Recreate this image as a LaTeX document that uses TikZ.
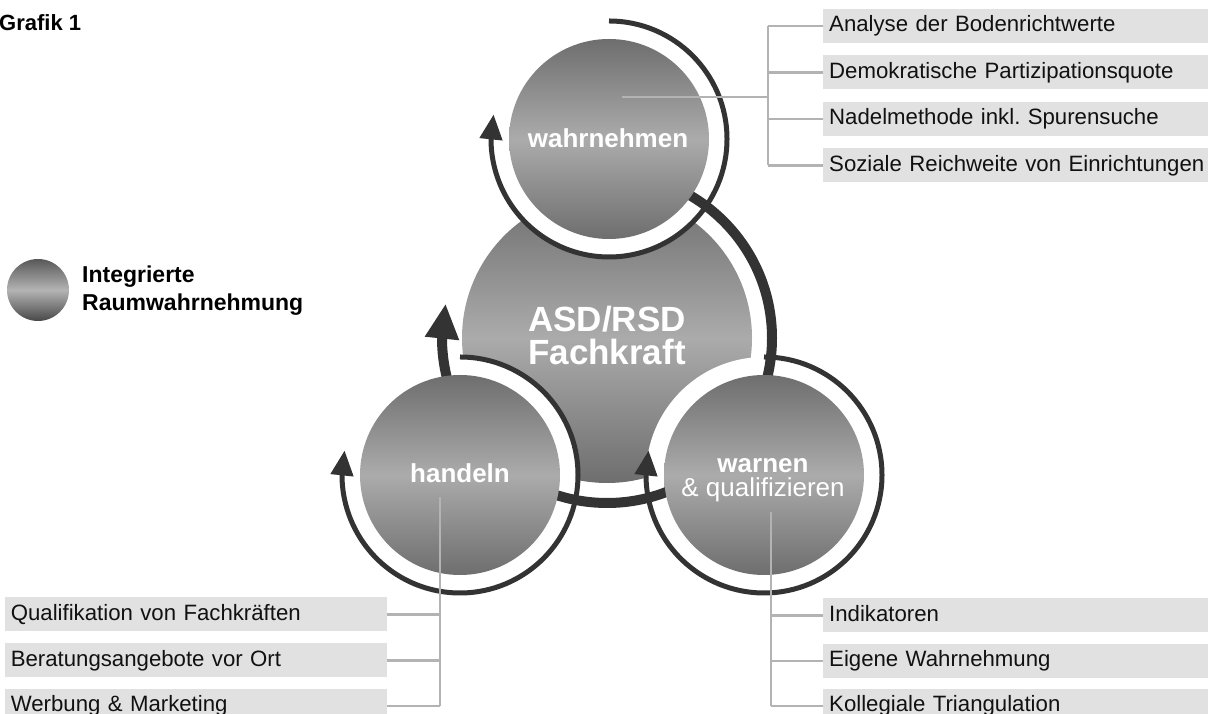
\documentclass[tikz,border=0pt]{standalone}
\usepackage{fontspec}
\setmainfont{Liberation Sans}
\usetikzlibrary{arrows.meta,bending}

\definecolor{ink}{HTML}{333333}
\definecolor{discdark}{HTML}{6E6E6E}
\definecolor{disclight}{HTML}{ABABAB}
\definecolor{keydark}{HTML}{585858}
\definecolor{keydarker}{HTML}{484848}
\definecolor{keylight}{HTML}{B4B4B4}
\definecolor{boxfill}{HTML}{E1E1E1}
\definecolor{twig}{HTML}{B3B3B3}
\definecolor{labelink}{HTML}{111111}

\begin{document}
\frenchspacing
\begin{tikzpicture}[x=1pt,y=1pt,
  disc/.style={circle,inner sep=0pt,minimum size=200pt,
    top color=discdark,bottom color=discdark,middle color=disclight},
  halo/.style={fill=white},
  ring/.style={draw=ink,line width=5pt,-{Triangle[width=22pt,length=25pt]}},
  bigring/.style={draw=ink,line width=10pt,-{Triangle[width=32pt,length=35pt]}},
  twigline/.style={draw=twig,line width=2.5pt},
  item/.style={fill=boxfill,inner xsep=6pt,inner ysep=0pt,minimum height=34pt,
    text width=400pt,align=left,text height=16pt,text depth=4pt,text=labelink,
    font=\fontsize{22.2}{26}\selectfont},
  itemleft/.style={item,text width=370pt},
  disclabel/.style={text=white,inner sep=0pt,font=\fontsize{26}{24}\selectfont\bfseries}
]
\useasboundingbox (0,0) rectangle (1208,714);
\begin{scope}
\clip (0,0) rectangle (1208,714);

% centres of the discs
\coordinate (T) at (609,575);
\coordinate (H) at (460,239);
\coordinate (W) at (764,239);

% central disc
\node[disc,minimum size=290pt] (C) at (607,376) {};

% white halos around the three outer discs
\fill[halo] (T) circle[radius=118];
\fill[halo] (H) circle[radius=118];
\fill[halo] (W) circle[radius=118];

% thick cycle around the central disc
\draw[bigring] ([shift={(90:165)}]C.center) arc[start angle=90,end angle=-192,radius=165];

% outer discs
\node[disc] (Td) at (T) {};
\node[disc] (Hd) at (H) {};
\node[disc] (Wd) at (W) {};

% thin cycles around the outer discs
\draw[ring] ([shift={(90:118)}]T) arc[start angle=90,end angle=-192,radius=118];
\draw[ring] ([shift={(90:118)}]H) arc[start angle=90,end angle=-192,radius=118];
\draw[ring] ([shift={(90:118)}]W) arc[start angle=90,end angle=-192,radius=118];

% disc labels (base anchor of a multi-line node sits on its last line)
\node[disclabel,anchor=base,align=center,font=\fontsize{35}{33}\selectfont\bfseries] (Cl) at (607,349) {ASD/RSD\\Fachkraft};
\node[disclabel,anchor=base] (Tl) at (608,566) {wahrnehmen};
\node[disclabel,anchor=base] (Hl) at (460,231) {handeln};
\node[disclabel,anchor=base,align=center] (Wl) at (763,217) {warnen\\{\mdseries\& qualifizieren}};

% title and key
\node[anchor=base west,inner sep=0pt,font=\fontsize{22}{26}\selectfont\bfseries] (title) at (-1,683) {Grafik 1};
\node[circle,inner sep=0pt,minimum size=62pt,top color=keydark,bottom color=keydarker,middle color=keylight] (key) at (38,424) {};
\node[anchor=base west,align=left,inner sep=0pt,font=\fontsize{23}{28}\selectfont\bfseries] (keyl) at (82,403) {Integrierte\\Raumwahrnehmung};

% methods: wahrnehmen
\node[item,anchor=west] (a1) at (823,688) {Analyse der Bodenrichtwerte};
\node[item,anchor=west] (a2) at (823,641.5) {Demokratische Partizipationsquote};
\node[item,anchor=west] (a3) at (823,595) {Nadelmethode inkl. Spurensuche};
\node[item,anchor=west] (a4) at (823,548.5) {Soziale Reichweite von Einrichtungen};
\coordinate (tA) at (622,617);
\coordinate (tJ) at (768,617);
\draw[twigline] (tA) -- (tJ);
\draw[twigline] (tJ |- a1.west) -- (tJ |- a4.west);
\foreach \n in {a1,a2,a3,a4} \draw[twigline] (tJ |- \n.west) -- (\n.west);

% methods: handeln
\node[itemleft,anchor=east] (b1) at (387,99.5) {Qualifikation von Fachkräften};
\node[itemleft,anchor=east] (b2) at (387,53.5) {Beratungsangebote vor Ort};
\node[itemleft,anchor=east] (b3) at (387,8) {Werbung \& Marketing};
\coordinate (hA) at (440,217);
\draw[twigline] (hA) -- (hA |- b3.east);
\foreach \n in {b1,b2,b3} \draw[twigline] (hA |- \n.east) -- (\n.east);

% methods: warnen & qualifizieren
\node[item,anchor=west] (c1) at (823,98.5) {Indikatoren};
\node[item,anchor=west] (c2) at (823,53) {Eigene Wahrnehmung};
\node[item,anchor=west] (c3) at (823,8) {Kollegiale Triangulation};
\coordinate (wA) at (771,202);
\draw[twigline] (wA) -- (wA |- c3.west);
\foreach \n in {c1,c2,c3} \draw[twigline] (wA |- \n.west) -- (\n.west);
\end{scope}
\end{tikzpicture}
\end{document}
